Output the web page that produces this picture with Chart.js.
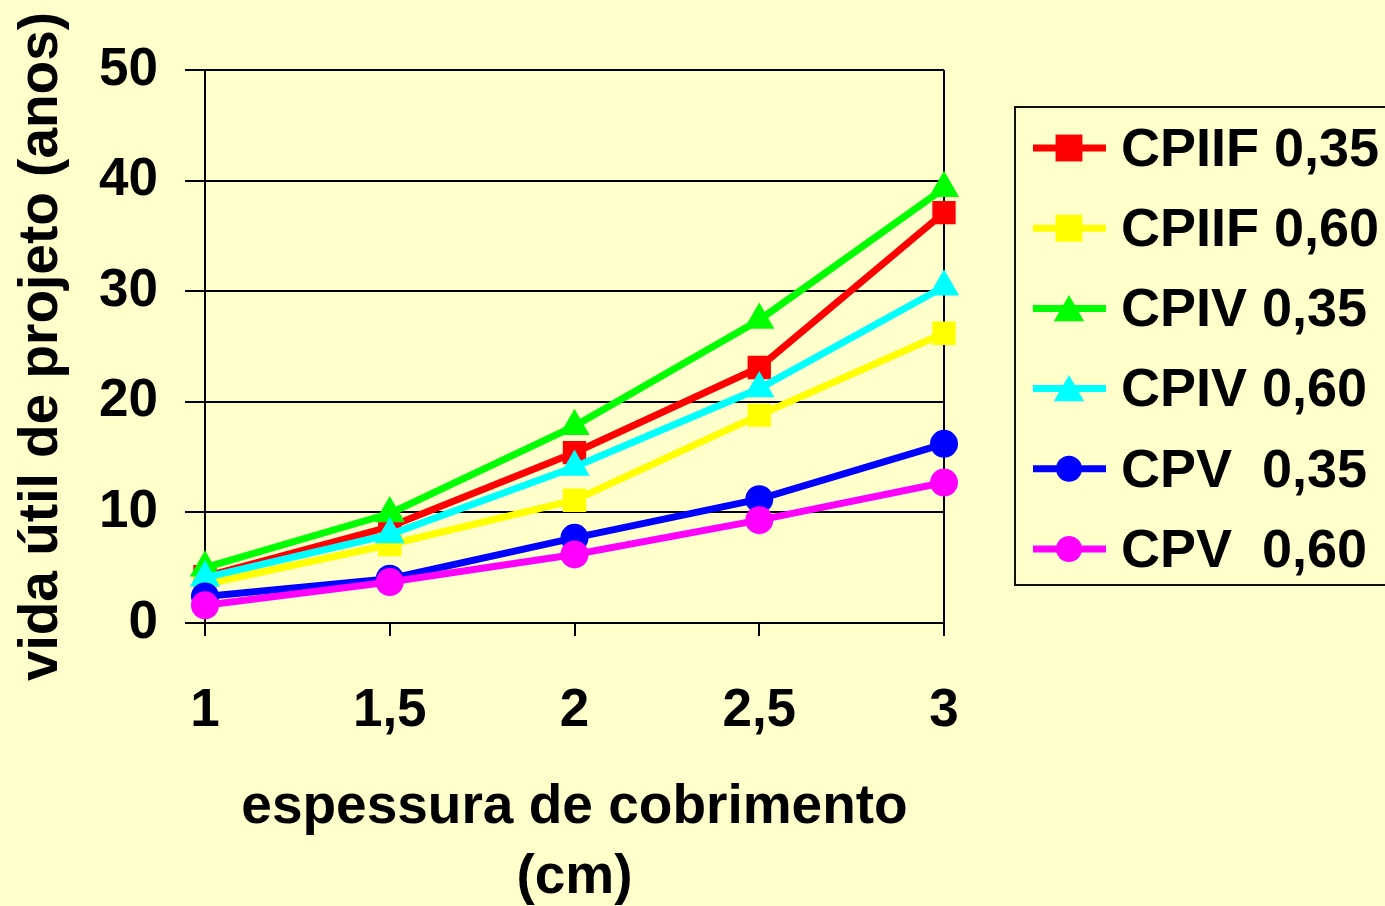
<!DOCTYPE html>
<html>
<head>
<meta charset="utf-8">
<script src="https://cdn.jsdelivr.net/npm/chart.js@4.4.0/dist/chart.umd.min.js"></script>
<style>
  html, body { margin: 0; padding: 0; background: #FFFFCC; }
  canvas { display: block; }
</style>
</head>
<body>
<canvas id="chart" width="1385" height="906"></canvas>
<script>
// cover thickness (cm) along the x axis
const coverLabels = ['1', '1,5', '2', '2,5', '3'];

// service life (years) per cement type and w/c ratio
const seriesNames = ['CPIIF 0,35', 'CPIIF 0,60', 'CPIV 0,35', 'CPIV 0,60', 'CPV  0,35', 'CPV  0,60'];
const cpiif035 = [4.2, 8.7, 15.4, 23.1, 37.1];
const cpiif060 = [3.5, 7.1, 11.1, 18.8, 26.2];
const cpiv035  = [5.0, 9.9, 17.8, 27.4, 39.3];
const cpiv060  = [4.1, 8.0, 14.1, 21.2, 30.4];
const cpv035   = [2.4, 4.0, 7.7, 11.2, 16.2];
const cpv060   = [1.6, 3.7, 6.2, 9.3, 12.7];

const yTickValues = [0, 10, 20, 30, 40, 50];

const seriesValues = [cpiif035, cpiif060, cpiv035, cpiv060, cpv035, cpv060];
const seriesColors = ['#FF0000', '#FFFF00', '#00FF00', '#00FFFF', '#0000FF', '#FF00FF'];
const seriesMarkers = ['rect', 'rect', 'triangle', 'triangle', 'circle', 'circle'];
const markerRadius = { rect: 16.5, triangle: 17.5, circle: 14 };
const legendRadius = { rect: 19, triangle: 17.5, circle: 13 };

const FONT = '"Liberation Sans", Arial, sans-serif';

const datasets = seriesNames.map((name, i) => ({
  label: name,
  data: seriesValues[i],
  borderColor: seriesColors[i],
  backgroundColor: seriesColors[i],
  pointBackgroundColor: seriesColors[i],
  pointBorderWidth: 0,
  borderWidth: 7,
  pointStyle: seriesMarkers[i],
  pointRadius: markerRadius[seriesMarkers[i]],
  pointHoverRadius: markerRadius[seriesMarkers[i]],
  tension: 0,
  fill: false,
  order: seriesNames.length - 1 - i   // later series painted on top
}));

// boxed legend with a line sample and marker for each series
const boxedLegend = {
  id: 'boxedLegend',
  afterDraw(chart) {
    const ctx = chart.ctx;
    ctx.save();
    ctx.fillStyle = '#FFFFCC';
    ctx.fillRect(1015, 107, 380, 478);
    ctx.strokeStyle = '#111';
    ctx.lineWidth = 2;
    ctx.strokeRect(1015, 107, 400, 478);
    chart.data.datasets.forEach((ds, i) => {
      const y = 148 + i * 80.2;
      ctx.strokeStyle = ds.borderColor;
      ctx.lineWidth = 7;
      ctx.beginPath();
      ctx.moveTo(1033, y);
      ctx.lineTo(1106, y);
      ctx.stroke();
      ctx.fillStyle = ds.backgroundColor;
      Chart.helpers.drawPoint(ctx, {
        pointStyle: ds.pointStyle,
        radius: legendRadius[ds.pointStyle],
        rotation: 0,
        borderWidth: 0
      }, 1069, ds.pointStyle === 'triangle' ? y + 4 : y);
      ctx.fillStyle = '#000';
      ctx.font = 'bold 54px ' + FONT;
      ctx.textBaseline = 'middle';
      ctx.textAlign = 'left';
      ctx.fillText(ds.label, 1121, y + 3);
    });
    ctx.restore();
  }
};

new Chart(document.getElementById('chart'), {
  type: 'line',
  data: { labels: coverLabels, datasets },
  options: {
    responsive: false,
    animation: false,
    devicePixelRatio: 1,
    layout: { padding: { top: 70, right: 441, left: 0, bottom: 0 } },
    plugins: { legend: { display: false }, tooltip: { enabled: false } },
    scales: {
      x: {
        type: 'category',
        offset: false,
        afterFit(scale) { scale.height = 283; },
        grid: {
          drawOnChartArea: true,
          color: (c) => (c.index === coverLabels.length - 1 ? '#000' : 'rgba(0,0,0,0)'),
          tickColor: '#000',
          lineWidth: 2,
          tickLength: 13
        },
        border: { display: true, color: '#000', width: 2 },
        ticks: {
          color: '#000',
          padding: 44,
          maxRotation: 0,
          font: { family: FONT, size: 53, weight: 'bold' }
        },
        title: {
          display: true,
          text: ['espessura de cobrimento', '(cm)'],
          color: '#000',
          font: { family: FONT, size: 55, weight: 'bold', lineHeight: 1.273 },
          padding: { top: 0, bottom: -7 }
        }
      },
      y: {
        min: 0,
        max: 50,
        afterFit(scale) { scale.width = 205; },
        afterBuildTicks(scale) { scale.ticks = yTickValues.map(v => ({ value: v })); },
        grid: { color: '#000', lineWidth: 2, tickLength: 20, tickColor: '#000' },
        border: { display: true, color: '#000', width: 2 },
        ticks: {
          color: '#000',
          padding: 27,
          font: { family: FONT, size: 53, weight: 'bold' }
        },
        title: {
          display: true,
          text: 'vida útil de projeto (anos)',
          color: '#000',
          font: { family: FONT, size: 55, weight: 'bold', lineHeight: 1.2 },
          padding: { top: 9, bottom: 0 }
        }
      }
    }
  },
  plugins: [boxedLegend]
});
</script>
</body>
</html>
